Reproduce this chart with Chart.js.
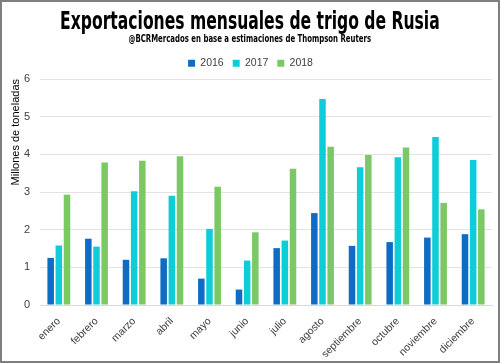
<!DOCTYPE html>
<html>
<head>
<meta charset="utf-8">
<script src="https://cdn.jsdelivr.net/npm/chart.js@4"></script>
<style>
  html, body { margin: 0; padding: 0; background: #fff; }
  #wrap { position: relative; width: 500px; height: 363px; box-sizing: border-box; border: 2px solid #7f7f7f; overflow: hidden; }
  #chart { position: absolute; left: 0; top: 0; }
  .ttl { position: absolute; left: -252px; width: 1000px; text-align: center; white-space: nowrap; color: #000; font-weight: bold;
         font-family: 'Liberation Sans Narrow', 'DejaVu Sans Condensed', 'Liberation Sans', sans-serif; }
  .ttl span { display: inline-block; transform-origin: center center; }
  #t1 { top: 4px; font-size: 25px; line-height: 30px; }
  #t2 { top: 30px; font-size: 11px; line-height: 14px; }
</style>
</head>
<body>
<div id="wrap">
  <canvas id="chart" width="496" height="359"></canvas>
  <div class="ttl" id="t1"><span>Exportaciones mensuales de trigo de Rusia</span></div>
  <div class="ttl" id="t2"><span>@BCRMercados en base a estimaciones de Thompson Reuters</span></div>
</div>
<script>
var months = ['enero','febrero','marzo','abril','mayo','junio','julio','agosto','septiembre','octubre','noviembre','diciembre'];
var y2016 = [1.25, 1.76, 1.20, 1.24, 0.70, 0.41, 1.51, 2.44, 1.57, 1.67, 1.79, 1.88];
var y2017 = [1.58, 1.55, 3.02, 2.90, 2.02, 1.18, 1.71, 5.47, 3.66, 3.92, 4.46, 3.85];
var y2018 = [2.93, 3.78, 3.83, 3.95, 3.14, 1.93, 3.62, 4.20, 3.98, 4.18, 2.71, 2.54];

// squeeze title text to the width seen in the picture
function fit(id, w) {
  var s = document.querySelector('#' + id + ' span');
  var k = w / s.offsetWidth;
  s.style.transform = 'scaleX(' + k.toFixed(3) + ')';
}
fit('t1', 380);
fit('t2', 243);

var baseFont = "'Liberation Sans', 'Open Sans', sans-serif";

function ds(label, data, col) {
  return { label: label, data: data, backgroundColor: col, borderWidth: 0,
           categoryPercentage: 0.65, barPercentage: 0.8 };
}

// fixed legend height so the plot starts where the original does
var legendBox = {
  id: 'legendBox',
  beforeInit: function(chart) {
    var orig = chart.legend.fit;
    chart.legend.fit = function() {
      orig.call(this);
      this.height = 30;
    };
  }
};

new Chart(document.getElementById('chart').getContext('2d'), {
  type: 'bar',
  data: {
    labels: months,
    datasets: [
      ds('2016', y2016, '#0f6cc4'),
      ds('2017', y2017, '#0ccdd8'),
      ds('2018', y2018, '#7cc864')
    ]
  },
  options: {
    responsive: false, animation: false,
    layout: { padding: { top: 47, right: 6, left: 7, bottom: 4 } },
    plugins: {
      tooltip: { enabled: false },
      legend: {
        position: 'top',
        labels: { color: '#404040', font: { family: baseFont, size: 10.5 }, boxWidth: 7, boxHeight: 7, padding: 9 }
      }
    },
    scales: {
      x: {
        grid: { display: false },
        border: { color: '#d9d9d9' },
        ticks: { color: '#404040', font: { family: baseFont, size: 10.5 }, minRotation: 45, maxRotation: 45, padding: 2 },
        afterFit: function(s) { s.height = 52; }
      },
      y: {
        min: 0, max: 6,
        grid: { color: '#e3e3e3', drawTicks: false },
        border: { display: false },
        ticks: { stepSize: 1, color: '#404040', font: { family: baseFont, size: 11 }, padding: 10 },
        title: { display: true, text: 'Millones de toneladas', align: 'end', color: '#000',
                 font: { family: baseFont, size: 11 }, padding: { top: 0, bottom: 2 } },
        afterFit: function(s) { s.width = 31; }
      }
    }
  },
  plugins: [legendBox]
});
</script>
</body>
</html>
